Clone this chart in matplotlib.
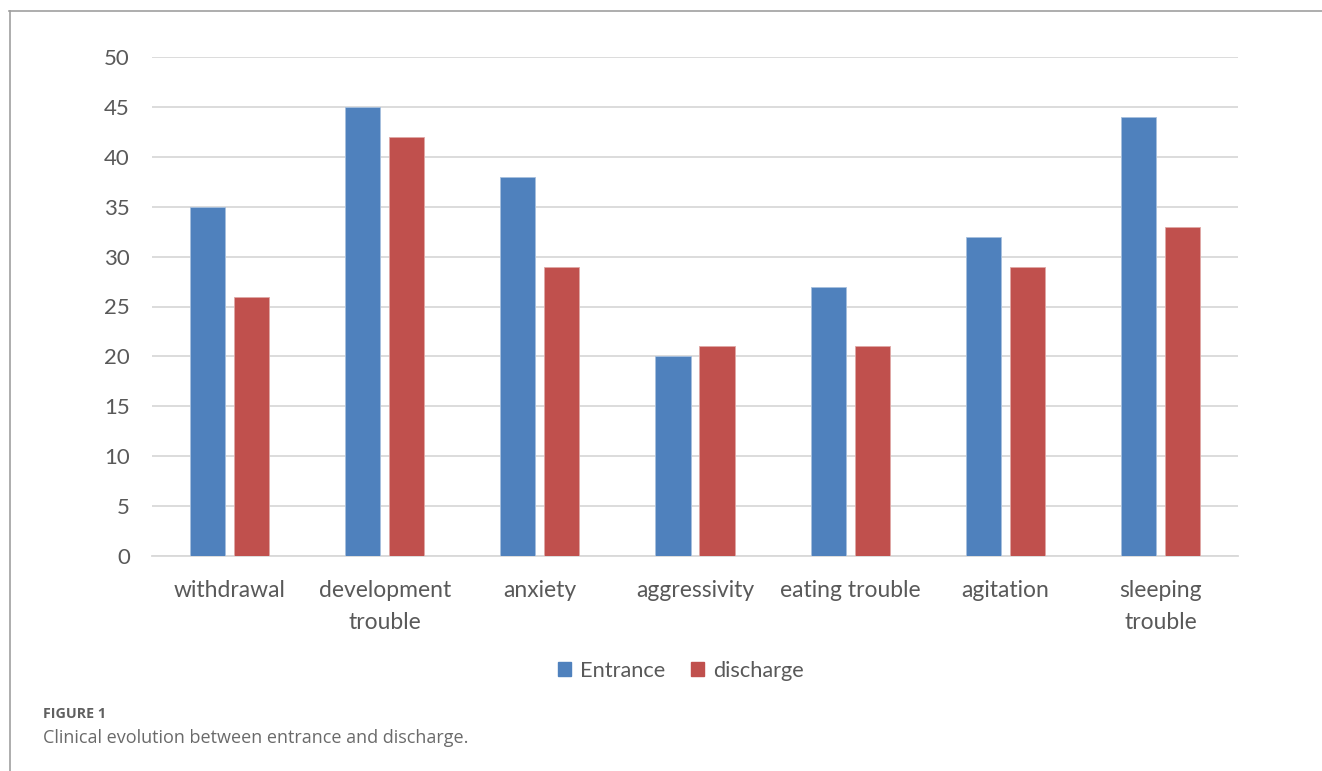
import matplotlib
matplotlib.use("Agg")
import matplotlib.pyplot as plt
import numpy as np
from matplotlib.lines import Line2D
from matplotlib.patches import Patch

categories = ["withdrawal", "development\ntrouble", "anxiety", "aggressivity",
              "eating trouble", "agitation", "sleeping\ntrouble"]
entrance = [35, 45, 38, 20, 27, 32, 44]
discharge = [26, 42, 29, 21, 21, 29, 33]
yticks = [0, 5, 10, 15, 20, 25, 30, 35, 40, 45, 50]

plt.rcParams['font.family'] = ['Lato', 'DejaVu Sans']
TXT = "#595959"
BLUE = "#4F81BD"
RED = "#C0504D"

fig = plt.figure(figsize=(13.22, 7.71), dpi=100)
ax = fig.add_axes([152/1322, 1-556/771, (1238-152)/1322, (556-57)/771])

x = np.arange(len(categories))
w = 0.226
off = 0.142
ax.bar(x - off, entrance, width=w, color=BLUE, edgecolor="#A7C0DE", linewidth=0.6, zorder=3)
ax.bar(x + off, discharge, width=w, color=RED, edgecolor="#DFA8A6", linewidth=0.6, zorder=3)

ax.set_xlim(-0.5, len(categories) - 0.5)
ax.set_ylim(0, 50)
ax.set_yticks(yticks)
ax.set_xticks(x)
ax.set_xticklabels(categories, linespacing=1.65)
ax.grid(axis='y', color="#D9D9D9", linewidth=1.3, zorder=0)
ax.set_axisbelow(True)
for s in ["top", "right", "left"]:
    ax.spines[s].set_visible(False)
ax.spines["bottom"].set_color("#D9D9D9")
ax.spines["bottom"].set_linewidth(1.3)
ax.tick_params(axis='y', length=0, pad=16, labelsize=16, labelcolor=TXT)
ax.tick_params(axis='x', length=0, pad=17, labelsize=16.5, labelcolor=TXT)

handles = [Patch(facecolor=BLUE, edgecolor=BLUE), Patch(facecolor=RED, edgecolor=RED)]
fig.legend(handles, ["Entrance", "discharge"], loc="center", bbox_to_anchor=(681/1322, 1-671/771),
           ncol=2, frameon=False, fontsize=15.7, labelcolor=TXT, handlelength=0.6,
           handleheight=0.6, handletextpad=0.4, columnspacing=1.2)

# frame lines
fig.add_artist(Line2D([9.5/1322, 9.5/1322], [0, 1-11/771], transform=fig.transFigure,
                      color="#A0A0A0", linewidth=1.2))
fig.add_artist(Line2D([9/1322, 1], [1-11/771, 1-11/771], transform=fig.transFigure,
                      color="#A0A0A0", linewidth=1.2))

fig.text(43/1322, 1-714/771, "FIGURE 1", fontsize=10.3, fontweight='bold', color="#606060",
         va='center', ha='left', family=['Open Sans', 'DejaVu Sans'])
fig.text(43/1322, 1-738/771, "Clinical evolution between entrance and discharge.", fontsize=13,
         color="#6a6a6a", va='center', ha='left', family=['Open Sans', 'DejaVu Sans'])

fig.savefig("out.png", dpi=100)
